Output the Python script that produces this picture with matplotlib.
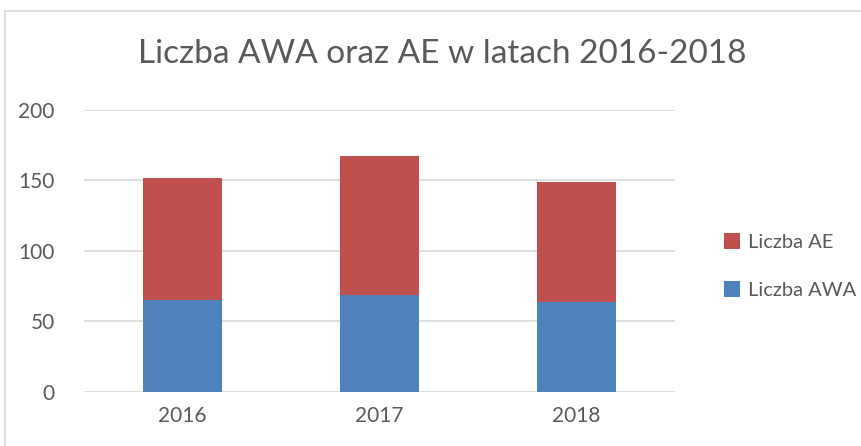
import matplotlib.pyplot as plt
from matplotlib.patches import Rectangle

years = ['2016', '2017', '2018']
awa = [65, 69, 64]
ae = [87, 98, 85]

plt.rcParams['font.family'] = ['Lato', 'DejaVu Sans']

fig = plt.figure(figsize=(8.62, 4.46), dpi=100)
ax = fig.add_axes([84 / 862, 1 - 391.7 / 446, (675 - 84) / 862, (391.7 - 110) / 446])

# chart frame (as in the spreadsheet screenshot)
fig.patches.append(Rectangle((5 / 862, -0.1), 1.2, 1 - 11 / 446 + 0.1,
                             transform=fig.transFigure, fill=False,
                             edgecolor='#d9d9d9', linewidth=1.2))

x = range(len(years))
ax.bar(x, awa, width=0.4, color='#4F81BD', label='Liczba AWA', zorder=3)
ax.bar(x, ae, width=0.4, bottom=awa, color='#C0504D', label='Liczba AE', zorder=3)

ax.set_xlim(-0.5, 2.5)
ax.set_ylim(0, 200)
ax.set_yticks([0, 50, 100, 150, 200])
ax.set_xticks(list(x))
ax.set_xticklabels(years)
ax.grid(axis='y', color='#d9d9d9', linewidth=1.2, zorder=0)
for s in ax.spines.values():
    s.set_visible(False)
ax.tick_params(length=0, labelsize=15, colors='#595959')
ax.tick_params(axis='y', pad=21)
ax.tick_params(axis='x', pad=10)

fig.text(0.513, 1 - 54 / 446, 'Liczba AWA oraz AE w latach 2016-2018',
         ha='center', va='center', fontsize=24, color='#595959')

handles, labels = ax.get_legend_handles_labels()
fig.legend(handles[::-1], labels[::-1], loc='center left',
           bbox_to_anchor=(706 / 862, 1 - 266 / 446), frameon=False,
           fontsize=14.5, labelcolor='#595959', handlelength=0.8,
           handleheight=0.8, handletextpad=0.4, labelspacing=1.5)

fig.savefig('out.png', dpi=100)
